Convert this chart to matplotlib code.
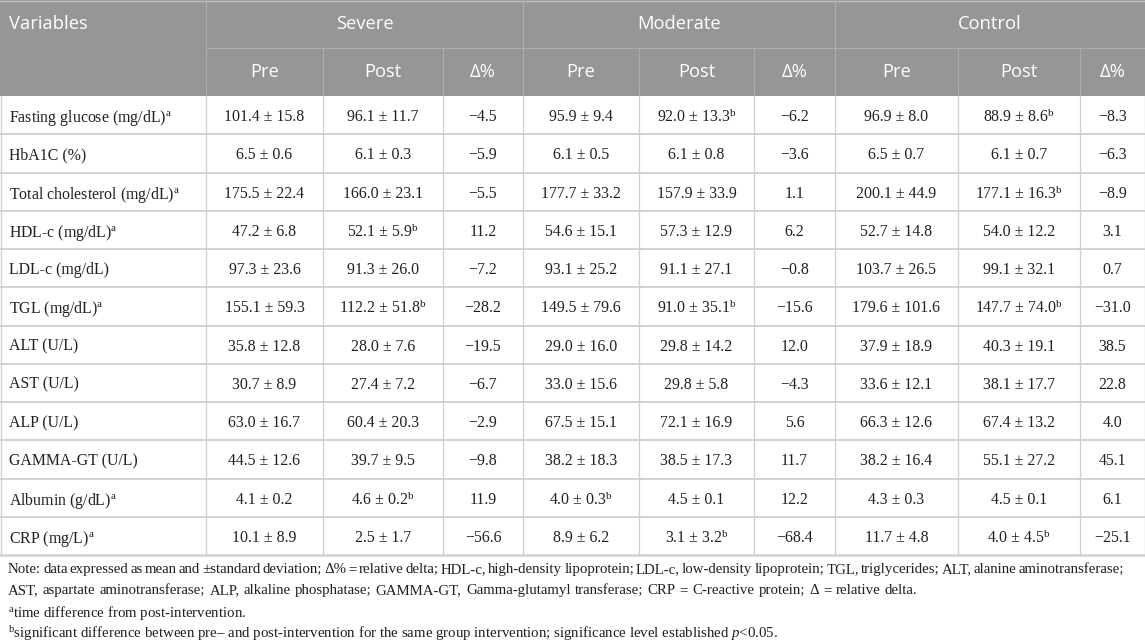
import matplotlib
matplotlib.use('Agg')
import matplotlib.pyplot as plt

plt.rcParams['mathtext.fontset'] = 'custom'
plt.rcParams['mathtext.rm'] = 'Liberation Serif'
plt.rcParams['mathtext.it'] = 'Liberation Serif:italic'
plt.rcParams['mathtext.bf'] = 'Liberation Serif:bold'

# ---------------- data ----------------
groups = ['Severe', 'Moderate', 'Control']
subcols = ['Pre', 'Post', 'Δ%']
variables = ['Fasting glucose (mg/dL)', 'HbA1C (%)', 'Total cholesterol (mg/dL)',
             'HDL-c (mg/dL)', 'LDL-c (mg/dL)', 'TGL (mg/dL)', 'ALT (U/L)', 'AST (U/L)',
             'ALP (U/L)', 'GAMMA-GT (U/L)', 'Albumin (g/dL)', 'CRP (mg/L)']
variable_marks = ['a', '', 'a', 'a', '', 'a', '', '', '', '', 'a', 'a']

severe_pre = [(101.4, 15.8), (6.5, 0.6), (175.5, 22.4), (47.2, 6.8), (97.3, 23.6), (155.1, 59.3),
              (35.8, 12.8), (30.7, 8.9), (63.0, 16.7), (44.5, 12.6), (4.1, 0.2), (10.1, 8.9)]
severe_post = [(96.1, 11.7), (6.1, 0.3), (166.0, 23.1), (52.1, 5.9), (91.3, 26.0), (112.2, 51.8),
               (28.0, 7.6), (27.4, 7.2), (60.4, 20.3), (39.7, 9.5), (4.6, 0.2), (2.5, 1.7)]
severe_delta = [-4.5, -5.9, -5.5, 11.2, -7.2, -28.2, -19.5, -6.7, -2.9, -9.8, 11.9, -56.6]
severe_pre_marks = [''] * 12
severe_post_marks = ['', '', '', 'b', '', 'b', '', '', '', '', 'b', '']

moderate_pre = [(95.9, 9.4), (6.1, 0.5), (177.7, 33.2), (54.6, 15.1), (93.1, 25.2), (149.5, 79.6),
                (29.0, 16.0), (33.0, 15.6), (67.5, 15.1), (38.2, 18.3), (4.0, 0.3), (8.9, 6.2)]
moderate_post = [(92.0, 13.3), (6.1, 0.8), (157.9, 33.9), (57.3, 12.9), (91.1, 27.1), (91.0, 35.1),
                 (29.8, 14.2), (29.8, 5.8), (72.1, 16.9), (38.5, 17.3), (4.5, 0.1), (3.1, 3.2)]
moderate_delta = [-6.2, -3.6, 1.1, 6.2, -0.8, -15.6, 12.0, -4.3, 5.6, 11.7, 12.2, -68.4]
moderate_pre_marks = ['', '', '', '', '', '', '', '', '', '', 'b', '']
moderate_post_marks = ['b', '', '', '', '', 'b', '', '', '', '', '', 'b']

control_pre = [(96.9, 8.0), (6.5, 0.7), (200.1, 44.9), (52.7, 14.8), (103.7, 26.5), (179.6, 101.6),
               (37.9, 18.9), (33.6, 12.1), (66.3, 12.6), (38.2, 16.4), (4.3, 0.3), (11.7, 4.8)]
control_post = [(88.9, 8.6), (6.1, 0.7), (177.1, 16.3), (54.0, 12.2), (99.1, 32.1), (147.7, 74.0),
                (40.3, 19.1), (38.1, 17.7), (67.4, 13.2), (55.1, 27.2), (4.5, 0.1), (4.0, 4.5)]
control_delta = [-8.3, -6.3, -8.9, 3.1, 0.7, -31.0, 38.5, 22.8, 4.0, 45.1, 6.1, -25.1]
control_pre_marks = [''] * 12
control_post_marks = ['b', '', 'b', '', '', 'b', '', '', '', '', '', 'b']

note_lines = [
    'Note: data expressed as mean and ±standard deviation; Δ% = relative delta; HDL-c, high-density lipoprotein; '
    'LDL-c, low-density lipoprotein; TGL, triglycerides; ALT, alanine aminotransferase;',
    'AST, aspartate aminotransferase; ALP, alkaline phosphatase; GAMMA-GT, Gamma-glutamyl transferase; '
    'CRP = C-reactive protein; Δ = relative delta.',
    r'$^{\mathrm{a}}$time difference from post-intervention.',
    r'$^{\mathrm{b}}$significant difference between pre– and post-intervention for the same group intervention; '
    r'significance level established $p$<0.05.',
]

# ---------------- layout ----------------
W, H = 1145, 644
col_x = [0, 206, 323, 443, 523, 639, 754, 835, 958, 1080, 1145]
n_rows = len(variables)
row_h = (555 - 96) / n_rows
row_y = [96 + i * row_h for i in range(n_rows + 1)]

HEAD_BG = '#969696'
HEAD_LINE = '#adadad'
GRID = '#cfcfcf'
TXT = '#231f20'
SANS = 'Open Sans'
SERIF = 'Liberation Serif'
HFS = 13.2
BFS = 11.4
NFS = 10.7


def fmt_ms(ms, mark):
    s = f'{ms[0]:.1f} ± {ms[1]:.1f}'
    if mark:
        s += r'$^{\mathrm{' + mark + '}}$'
    return s


def fmt_d(d):
    return f'{d:.1f}'.replace('-', '−')


fig = plt.figure(figsize=(W / 100, H / 100), dpi=100)
ax = fig.add_axes([0, 0, 1, 1])
ax.set_xlim(0, W)
ax.set_ylim(H, 0)
ax.axis('off')

# header background
ax.fill_between([0, W], 0, 96, color=HEAD_BG, lw=0)
ax.plot([0, W], [0.8, 0.8], color='#bdbdbd', lw=1.0)
ax.plot([col_x[1], W], [48, 48], color=HEAD_LINE, lw=0.8)
for i, x in enumerate(col_x[1:-1], start=1):
    if i in (1, 4, 7):
        ax.plot([x, x], [0, 96], color=HEAD_LINE, lw=0.8)
    else:
        ax.plot([x, x], [48, 96], color=HEAD_LINE, lw=0.8)

ax.text(9, 24, 'Variables', family=SANS, fontsize=HFS, color='white', ha='left', va='center')
for g, name in enumerate(groups):
    x0, x1 = col_x[1 + 3 * g], col_x[4 + 3 * g]
    ax.text((x0 + x1) / 2, 24, name, family=SANS, fontsize=HFS, color='white', ha='center', va='center')
    for s, sub in enumerate(subcols):
        a, b = col_x[1 + 3 * g + s], col_x[2 + 3 * g + s]
        ax.text((a + b) / 2, 72, sub, family=SANS, fontsize=HFS, color='white', ha='center', va='center')

# body grid
for i, y in enumerate(row_y[1:], start=1):
    ax.plot([0, W], [y, y], color=GRID, lw=1.3 if i < n_rows else 1.8)
for x in col_x[1:-1]:
    ax.plot([x, x], [96, row_y[-1]], color=GRID, lw=0.9)
ax.plot([0.5, 0.5], [96, row_y[-1]], color=GRID, lw=0.9)
ax.plot([W - 0.5, W - 0.5], [96, row_y[-1]], color=GRID, lw=0.9)

columns = [
    (severe_pre, severe_pre_marks, None), (severe_post, severe_post_marks, None), (None, None, severe_delta),
    (moderate_pre, moderate_pre_marks, None), (moderate_post, moderate_post_marks, None), (None, None, moderate_delta),
    (control_pre, control_pre_marks, None), (control_post, control_post_marks, None), (None, None, control_delta),
]

for r in range(n_rows):
    yc = (row_y[r] + row_y[r + 1]) / 2
    label = variables[r]
    if variable_marks[r]:
        label += r'$^{\mathrm{' + variable_marks[r] + '}}$'
    ax.text(9, yc, label, family=SERIF, fontsize=BFS, color=TXT, ha='left', va='center_baseline')
    for c, (vals, marks, deltas) in enumerate(columns):
        xc = (col_x[c + 1] + col_x[c + 2]) / 2
        if vals is not None:
            s = fmt_ms(vals[r], marks[r])
        else:
            s = fmt_d(deltas[r])
        ax.text(xc, yc, s, family=SERIF, fontsize=BFS, color=TXT, ha='center', va='center_baseline')

# notes
fig.canvas.draw()
renderer = fig.canvas.get_renderer()


def justified(line, y, x0, x1):
    words = line.split(' ')
    texts = [ax.text(0, y, w, family=SERIF, fontsize=NFS, color=TXT, ha='left', va='center_baseline')
             for w in words]
    widths = [t.get_window_extent(renderer).width for t in texts]
    gap = (x1 - x0 - sum(widths)) / (len(words) - 1)
    x = x0
    for t, w in zip(texts, widths):
        t.set_x(x)
        x += w + gap


note_y = [568, 589, 610, 631]
justified(note_lines[0], note_y[0], 8, 1124)
justified(note_lines[1], note_y[1], 8, 917)
for y, line in zip(note_y[2:], note_lines[2:]):
    ax.text(8, y, line, family=SERIF, fontsize=NFS, color=TXT, ha='left', va='center_baseline')

fig.savefig('out.png', dpi=100)
